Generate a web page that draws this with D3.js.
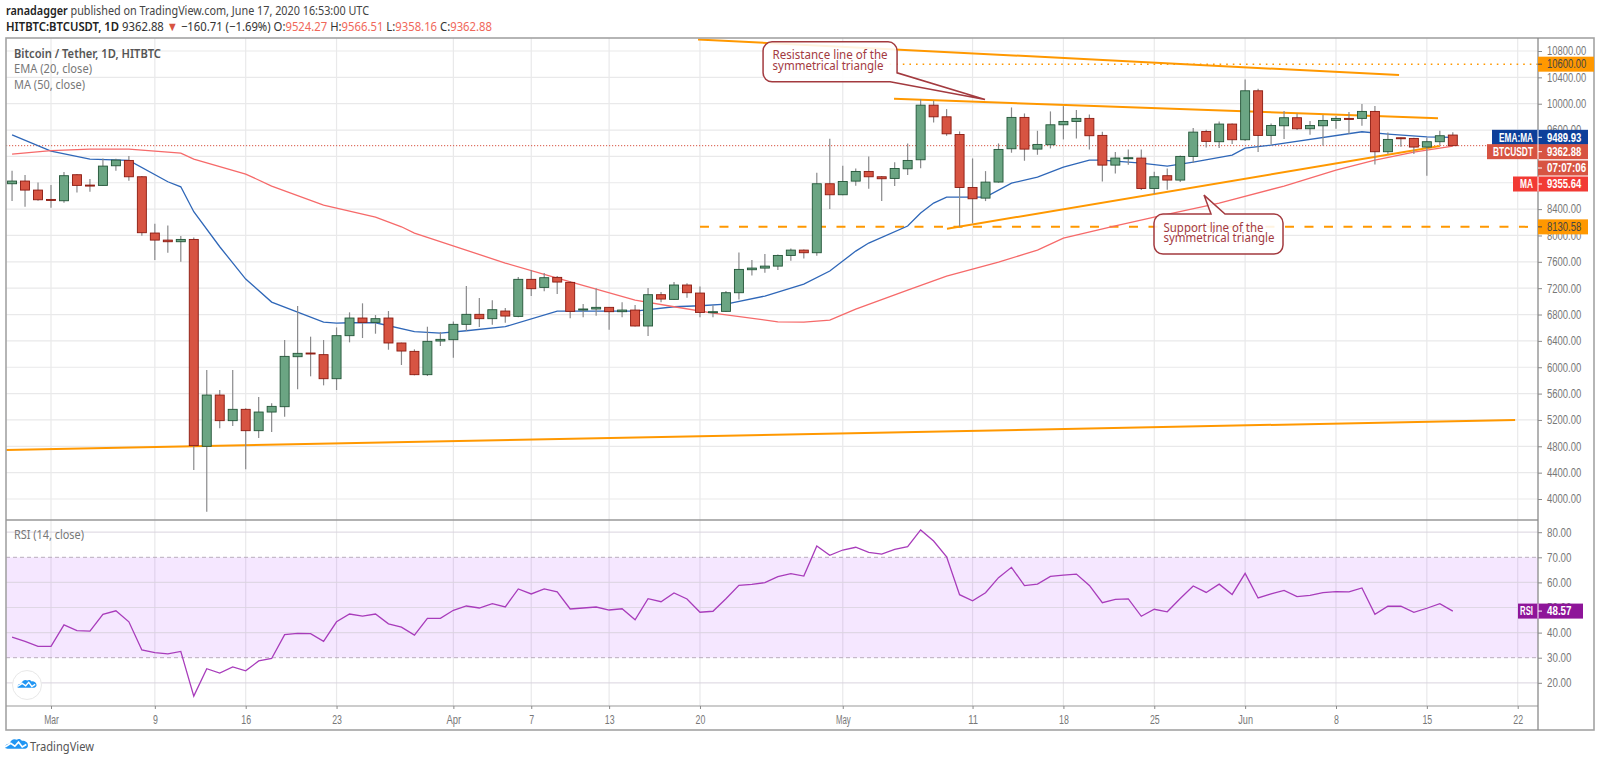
<!DOCTYPE html>
<html>
<head>
<meta charset="utf-8">
<script src="https://cdn.jsdelivr.net/npm/d3@7"></script>
<style>
  body { margin: 0; background: #fff; }
  text { font-family: "Noto Sans", sans-serif; }
  .narrow text { font-family: "Liberation Sans", sans-serif; }
</style>
</head>
<body>
<svg id="chart" width="1600" height="763"></svg>
<script>
// daily bars from Feb 27 to Jun 17 2020
const opens = [8785,8826,8689,8547,8527,8922,8765,8760,9058,9139,8891,8037,7930,7905,7940,4800,5578,5189,5361,5037,5320,5401,6160,
  6216,6191,5826,6479,6747,6681,6747,6368,6241,5887,6398,6418,6651,6803,6737,6853,6772,7334,7212,7364,7288,6868,6884,6909,6843,6868,6626,7101,7030,7248,
  7126,6832,6848,7131,7480,7505,7535,7697,7778,7738,8785,8618,8825,8972,8891,8866,9012,9149,9978,9801,9533,8729,8567,
  8811,9316,9792,9311,9377,9680,9731,9777,9519,9068,9170,9175,8714,8907,8841,9200,9579,9423,9691,9453,10196,9519,
  9665,9787,9620,9665,9746,9777,9777,9883,9271,9483,9473,9342,9423,9524.27];
const highs = [8982,8917,8805,8765,8962,8932,8856,9170,9164,9205,8901,8178,8153,7991,7971,5958,5654,5958,5376,5548,5452,6413,6929,
  6464,6413,6605,6833,6970,6792,6853,6373,6272,6615,6534,6696,7233,7050,7015,6899,7369,7475,7430,7384,7308,6959,7197,6915,6985,6944,7202,7141,7293,7273,
  7227,6939,7156,7743,7627,7718,7713,7804,7788,8952,9468,9058,9017,9199,8901,9113,9397,10069,10044,9918,9579,9169,8977,
  9397,9943,9852,9589,9883,9964,9903,9837,9574,9266,9306,9306,8967,9018,9215,9630,9605,9731,9701,10368,10227,9701,
  9888,9852,9736,9827,9812,9873,9994,9964,9564,9488,9483,9488,9590,9566.51];
const lows = [8522,8436,8527,8421,8497,8654,8664,8755,8982,8831,7996,7627,7738,7602,4440,3808,5073,5108,4450,4926,5017,5250,5664,
  5862,5725,5654,6378,6443,6509,6266,6034,5877,5867,6322,6145,6550,6610,6646,6676,6757,7081,7152,7111,6742,6757,6782,6570,6757,6620,6474,6985,7020,7055,
  6757,6757,6837,7030,7394,7434,7475,7616,7652,7692,8400,8612,8754,8709,8522,8749,8916,9022,9715,9513,8132,8183,8522,
  8800,9256,9134,9225,9321,9458,9473,9306,8821,8942,9074,8689,8628,8694,8811,9104,9337,9326,9387,9433,9266,9377,
  9463,9600,9529,9362,9620,9539,9665,9079,9235,9347,9235,8907,9367,9358.16];
const closes = [8826,8689,8542,8537,8907,8760,8755,9053,9144,8891,8042,7930,7905,7940,4810,5578,5189,5361,5037,5320,5406,6165,6211,
  6206,5826,6479,6747,6681,6737,6368,6246,5887,6393,6423,6651,6803,6737,6873,6777,7334,7192,7359,7293,6848,6884,6909,6843,6868,6626,7101,7035,7248,7131,
  6832,6843,7131,7485,7505,7535,7697,7778,7738,8785,8618,8820,8972,8891,8861,9017,9139,9978,9801,9543,8729,8557,8810,
  9306,9792,9311,9382,9680,9731,9777,9514,9068,9175,9180,8714,8891,8841,9200,9569,9428,9691,9453,10196,9519,9670,
  9787,9620,9670,9746,9777,9772,9883,9271,9458,9473,9342,9423,9514,9362.88];

// EMA and MA read as bar number / price vertices
const emaBars = [0,3,6,9,12,13,14,16,18,20,22,24,25,26,28,31,33,35,38,42,45,48,51,53,55,58,61,63,65,66,69,70,71,72,75,77,79,81,83,84,87,89,90,91,94,95,97,104,106,109,111];
const emaVals = [9528,9281,9159,9140,8815,8739,8360,7829,7338,6989,6838,6686,6671,6675,6675,6539,6519,6554,6615,6853,6853,6853,6918,6933,6959,7080,7262,7460,7763,7885,8143,8340,8492,8583,8583,8795,8886,9038,9144,9144,9099,9053,9083,9114,9220,9326,9372,9574,9539,9498,9489.93];
const maBars = [0,3,6,9,13,14,18,20,24,28,30,31,38,42,48,51,54,59,61,63,65,69,72,76,79,81,85,88,93,98,102,105,108,111];
const maVals = [9235,9288,9311,9311,9250,9159,8932,8750,8461,8279,8132,8036,7581,7354,7020,6918,6822,6690,6686,6716,6883,7171,7384,7596,7778,7960,8147,8279,8492,8750,8992,9144,9266,9355.64];

const rsiVals = [38.2,36.5,34.5,34.5,43.1,40.8,40.6,47.3,48.7,44.3,33.1,32.0,31.5,32.5,14.7,25.6,23.9,26.3,24.8,28.7,29.7,39.2,39.7,39.6,36.5,44.3,47.4,46.6,47.4,43.5,42.2,39.0,45.7,45.7,48.9,50.6,49.8,51.5,
  50.2,57.4,55.4,57.4,56.2,49.4,49.8,50.2,49.0,49.5,45.1,53.5,52.3,55.8,53.4,48.1,48.5,53.5,58.8,59.2,59.9,62.3,63.5,62.5,74.5,70.8,72.9,74.0,72.0,71.3,73.2,74.2,80.9,76.5,70.2,55.1,52.7,55.9,61.9,
  66.0,58.7,59.3,62.4,62.9,63.3,58.8,51.9,53.2,53.4,46.5,49.3,48.3,53.6,58.6,56.0,59.3,55.2,63.6,53.8,55.4,56.8,54.3,54.8,55.9,56.3,56.2,57.8,47.3,50.5,50.5,48.1,49.7,51.5,48.57];

const priceTicks = [4000,4400,4800,5200,5600,6000,6400,6800,7200,7600,8000,8400,8800,9200,9600,10000,10400,10800];
const hiddenPriceLabels = [8800,9200];
const rsiTicks = [20,30,40,50,60,70,80];
const timeTickBars = [3,11,18,25,34,40,46,53,64,74,81,88,95,102,109,116];
const timeTickLabels = ["Mar","9","16","23","Apr","7","13","20","May","11","18","25","Jun","8","15","22"];

const lastPrice = 9362.88, horizDashed = 8130.58, horizDotted = 10600;
// trend lines: [bar, price] at each end
const trendBottom = [[-0.46,4744],[115.8,5199]];
const trendTop = [[52.85,10976],[106.86,10434]];
const trendResist = [[67.95,10074],[109.86,9781]];
const trendSupport = [[72.03,8102],[110,9357]];

const svg = d3.select("#chart");

const paneLeft = 6, paneRight = 1538, frameRight = 1594;
const mainTop = 38, mainBottom = 520, rsiBottom = 706, frameBottom = 730;
const charW = 4.9; // axis digits are squeezed in the original

const x = d3.scaleLinear().domain([0,116]).range([12.06,1517.7]);
const y = d3.scaleLinear().domain([4000,10800]).range([499,51]);
const yRsi = d3.scaleLinear().domain([30,70]).range([657.7,557.3]);

svg.append("clipPath").attr("id","clipMain").append("rect")
  .attr("x",paneLeft).attr("y",mainTop).attr("width",paneRight-paneLeft).attr("height",mainBottom-mainTop);
svg.append("clipPath").attr("id","clipRsi").append("rect")
  .attr("x",paneLeft).attr("y",mainBottom).attr("width",paneRight-paneLeft).attr("height",rsiBottom-mainBottom);

// grid
const gridColor = "#e9e9ea";
const grid = svg.append("g");
grid.selectAll(".vm").data(timeTickBars).enter().append("line")
  .attr("x1",d=>x(d)).attr("x2",d=>x(d)).attr("y1",mainTop).attr("y2",rsiBottom)
  .attr("stroke",gridColor).attr("stroke-width",1.2);
grid.selectAll(".hm").data(priceTicks).enter().append("line")
  .attr("x1",paneLeft).attr("x2",paneRight).attr("y1",d=>y(d)).attr("y2",d=>y(d))
  .attr("stroke",gridColor).attr("stroke-width",1.2);

// rsi band
svg.append("rect").attr("x",paneLeft).attr("width",paneRight-paneLeft)
  .attr("y",yRsi(70)).attr("height",yRsi(30)-yRsi(70))
  .attr("fill","#9915ff").attr("opacity",0.1);
svg.selectAll(".band").data([30,70]).enter().append("line")
  .attr("x1",paneLeft).attr("x2",paneRight).attr("y1",d=>yRsi(d)).attr("y2",d=>yRsi(d))
  .attr("stroke","#b9adbd").attr("stroke-dasharray","4 3");
svg.selectAll(".rl").data(rsiTicks.filter(d=>d!=30 && d!=70)).enter().append("line")
  .attr("x1",paneLeft).attr("x2",paneRight).attr("y1",d=>yRsi(d)).attr("y2",d=>yRsi(d))
  .attr("stroke","#d9d3de").attr("stroke-width",1.2).attr("stroke-opacity",0.8);

const main = svg.append("g").attr("clip-path","url(#clipMain)");

// horizontal levels
main.append("line").attr("x1",paneLeft).attr("x2",paneRight).attr("y1",y(lastPrice)).attr("y2",y(lastPrice))
  .attr("stroke","#d75442").attr("stroke-dasharray","1.2 1.8");
main.append("line").attr("x1",x(53)).attr("x2",paneRight).attr("y1",y(horizDashed)).attr("y2",y(horizDashed))
  .attr("stroke","#ff9800").attr("stroke-width",2).attr("stroke-dasharray","9 10.5");
main.append("line").attr("x1",x(67.1)).attr("x2",paneRight).attr("y1",y(horizDotted)).attr("y2",y(horizDotted))
  .attr("stroke","#ff9800").attr("stroke-width",1.6).attr("stroke-dasharray","1.6 5");

// moving averages
const priceLine = d3.line().x(d=>x(d[0])).y(d=>y(d[1]));
main.append("path").attr("d",priceLine(d3.zip(emaBars,emaVals)))
  .attr("fill","none").attr("stroke","#2f67b8").attr("stroke-width",1.3);
main.append("path").attr("d",priceLine(d3.zip(maBars,maVals)))
  .attr("fill","none").attr("stroke","#f66a6a").attr("stroke-width",1.3);

// trend lines
main.selectAll(".trend").data([trendBottom,trendTop,trendResist,trendSupport]).enter().append("path")
  .attr("d",priceLine).attr("fill","none").attr("stroke","#ff9800").attr("stroke-width",2);

// candles
const candleWidth = 9;
const bars = d3.range(opens.length);
main.selectAll(".wick").data(bars).enter().append("line")
  .attr("x1",i=>x(i)).attr("x2",i=>x(i)).attr("y1",i=>y(highs[i])).attr("y2",i=>y(lows[i]))
  .attr("stroke","#8a8a8c").attr("stroke-width",1.2);
main.selectAll(".body").data(bars).enter().append("rect")
  .attr("x",i=>x(i)-candleWidth/2).attr("width",candleWidth)
  .attr("y",i=>y(Math.max(opens[i],closes[i])))
  .attr("height",i=>Math.max(1,Math.abs(y(opens[i])-y(closes[i]))))
  .attr("fill",i=>closes[i]>=opens[i] ? "#6ba583" : "#d75442")
  .attr("stroke",i=>closes[i]>=opens[i] ? "#225437" : "#8b1a10")
  .attr("stroke-width",0.9);

// callouts
function callout(bar, price, w, h, tip, tail, lines, widths) {
  const l = x(bar), t = y(price), r = l + w, b = t + h, c = 9;
  const tx = x(tip[0]), ty = y(tip[1]);
  let d;
  if (tail == "right") {
    d = `M${l+c},${t} H${r-c} A${c},${c} 0 0 1 ${r},${t+c} V${b-9} L${tx},${ty} L${r-7},${b} H${l+c} A${c},${c} 0 0 1 ${l},${b-c} V${t+c} A${c},${c} 0 0 1 ${l+c},${t} Z`;
  } else {
    d = `M${l+c},${t} H${l+57} L${tx},${ty} L${l+71},${t} H${r-c} A${c},${c} 0 0 1 ${r},${t+c} V${b-c} A${c},${c} 0 0 1 ${r-c},${b} H${l+c} A${c},${c} 0 0 1 ${l},${b-c} V${t+c} A${c},${c} 0 0 1 ${l+c},${t} Z`;
  }
  const g = svg.append("g");
  g.append("path").attr("d",d).attr("fill","#fff").attr("fill-opacity",0.88)
    .attr("stroke","#a33a3f").attr("stroke-width",1.5);
  g.selectAll("text").data(lines).enter().append("text")
    .attr("x",l+9.5).attr("y",(dd,i)=>t+17.5+i*10.8)
    .attr("fill","#a33a3f").attr("font-size",13).attr("textLength",(dd,i)=>widths[i]).attr("lengthAdjust","spacingAndGlyphs")
    .text(dd=>dd);
}
callout(57.86,10939,134,40,[74.96,10065],"right",["Resistance line of the","symmetrical triangle"],[115,111]);
callout(87.98,8325,129,40,[91.83,8613],"top",["Support line of the","symmetrical triangle"],[100,111]);

// rsi line
const rsiLine = d3.line().x((d,i)=>x(i)).y(d=>yRsi(d));
svg.append("path").attr("d",rsiLine(rsiVals)).attr("fill","none")
  .attr("stroke","#a83cbb").attr("stroke-width",1.3).attr("clip-path","url(#clipRsi)");

// frame
svg.append("rect").attr("x",paneLeft).attr("y",mainTop).attr("width",frameRight-paneLeft).attr("height",frameBottom-mainTop)
  .attr("fill","none").attr("stroke","#a3a3a3").attr("stroke-width",1.6);
svg.append("line").attr("x1",paneLeft).attr("x2",paneRight).attr("y1",mainBottom).attr("y2",mainBottom)
  .attr("stroke","#999").attr("stroke-width",1.6);
svg.append("line").attr("x1",paneLeft).attr("x2",paneRight).attr("y1",rsiBottom).attr("y2",rsiBottom)
  .attr("stroke","#999").attr("stroke-width",1.2);
svg.append("line").attr("x1",paneRight).attr("x2",paneRight).attr("y1",mainTop).attr("y2",frameBottom)
  .attr("stroke","#8a8a8a").attr("stroke-width",1.3);

// axes
function styleAxis(g) {
  g.attr("class","narrow");
  g.select(".domain").remove();
  g.selectAll(".tick line").attr("stroke","#8a8a8a");
  g.selectAll(".tick text").attr("fill","#777").attr("font-size",12)
    .attr("lengthAdjust","spacingAndGlyphs")
    .attr("textLength",function() { return this.textContent.length*charW; });
}
svg.append("g").attr("transform",`translate(${paneRight},0)`)
  .call(d3.axisRight(y).tickValues(priceTicks.filter(d=>!hiddenPriceLabels.includes(d))).tickFormat(d3.format(".2f")).tickSize(4).tickPadding(5))
  .call(styleAxis);
svg.append("g").attr("transform",`translate(${paneRight},0)`)
  .call(d3.axisRight(yRsi).tickValues(rsiTicks).tickFormat(d3.format(".2f")).tickSize(4).tickPadding(5))
  .call(styleAxis);
svg.append("g").attr("transform",`translate(0,${rsiBottom})`)
  .call(d3.axisBottom(x).tickValues(timeTickBars).tickFormat((d,i)=>timeTickLabels[i]).tickSize(3).tickPadding(6))
  .call(styleAxis);

// axis tags
function tag(cy, color, value, name, nameW, left, right, textColor) {
  const g = svg.append("g").attr("class","narrow");
  g.append("rect").attr("x",left).attr("y",cy-7.5).attr("width",right-left).attr("height",15).attr("fill",color);
  g.append("line").attr("x1",paneRight).attr("x2",paneRight+4).attr("y1",cy).attr("y2",cy).attr("stroke",textColor);
  g.append("text").attr("x",paneRight+9).attr("y",cy+4.3).attr("fill",textColor).attr("font-size",12)
    .attr("font-weight",textColor=="#fff"?700:400)
    .attr("textLength",value.length*charW).attr("lengthAdjust","spacingAndGlyphs").text(value);
  if (name) {
    g.append("text").attr("x",paneRight-5-nameW).attr("y",cy+4.3).attr("fill",textColor).attr("font-size",12).attr("font-weight",700)
      .attr("textLength",nameW).attr("lengthAdjust","spacingAndGlyphs").text(name);
    g.append("line").attr("x1",paneRight).attr("x2",paneRight).attr("y1",cy-7.5).attr("y2",cy+7.5).attr("stroke","#fff");
  }
}
tag(y(horizDotted),"#ff9800","10600.00","",0,paneRight,frameRight,"#444");
tag(y(horizDashed),"#ff9800","8130.58","",0,paneRight,1588,"#444");
tag(y(9489.93),"#0d3f9a","9489.93","EMA:MA",34,1492,1588,"#fff");
tag(y(lastPrice)+6,"#d75442","9362.88","BTCUSDT",40,1487,1588,"#fff");
tag(168,"#d75442","07:07:06","",0,paneRight,1588,"#fff");
tag(184,"#f23a34","9355.64","MA",13,1513,1588,"#fff");
tag(yRsi(48.57),"#8e1599","48.57","RSI",13,1518,1583,"#fff");

// header
svg.append("text").attr("x",6).attr("y",15).attr("font-size",12.5).attr("fill","#444")
  .attr("textLength",363).attr("lengthAdjust","spacingAndGlyphs")
  .html('<tspan font-weight="600" fill="#222">ranadagger</tspan> published on TradingView.com, June 17, 2020 16:53:00 UTC');
const redVal = '#f0675a';
svg.append("text").attr("x",6).attr("y",31).attr("font-size",12.5).attr("fill","#333")
  .attr("textLength",486).attr("lengthAdjust","spacingAndGlyphs")
  .html(`<tspan font-weight="600" fill="#222">HITBTC:BTCUSDT, 1D</tspan>  9362.88 <tspan fill="#d75442">▼</tspan> −160.71 (−1.69%) O:<tspan fill="${redVal}">9524.27</tspan> H:<tspan fill="${redVal}">9566.51</tspan> L:<tspan fill="${redVal}">9358.16</tspan> C:<tspan fill="${redVal}">9362.88</tspan>`);

// pane legends
const legendG = svg.append("g").attr("font-size",12);
[["Bitcoin / Tether, 1D, HITBTC",58,147,"#555",600],["EMA (20, close)",73,78,"#777",400],["MA (50, close)",88.5,71,"#777",400],["RSI (14, close)",539,70,"#777",400]]
  .forEach(l => {
    legendG.append("text").attr("x",14).attr("y",l[1]).attr("fill",l[3]).attr("font-weight",l[4])
      .attr("textLength",l[2]).attr("lengthAdjust","spacingAndGlyphs").text(l[0]);
  });

// tradingview logos
function cloud(g, s) {
  g.append("path").attr("transform",`scale(${s})`).attr("fill","#2196f3")
    .attr("d","M0,12 C0,8 3,6.5 5.5,7 C6.5,2.5 11,0 14.5,2.2 C16,0.8 19,1 20.5,3.5 C24,3 28,5 28,9 C28,11 26.5,13 24,13 L3,13 C1.5,13 0,12.5 0,12 Z");
  g.append("path").attr("transform",`scale(${s})`).attr("fill","none").attr("stroke","#fff").attr("stroke-width",2)
    .attr("d","M0,11 L7,6.5 L12,10 L16.5,5 L21,11 L26,8");
}
svg.append("circle").attr("cx",27).attr("cy",685).attr("r",14.5).attr("fill","#fff").attr("stroke","#e8e8e8");
cloud(svg.append("g").attr("transform","translate(17.5,679)"),0.68);
cloud(svg.append("g").attr("transform","translate(5,738)"),0.82);
svg.append("text").attr("x",30).attr("y",751).attr("font-size",12.5).attr("fill","#555").attr("textLength",64).attr("lengthAdjust","spacingAndGlyphs").text("TradingView");
</script>
</body>
</html>
